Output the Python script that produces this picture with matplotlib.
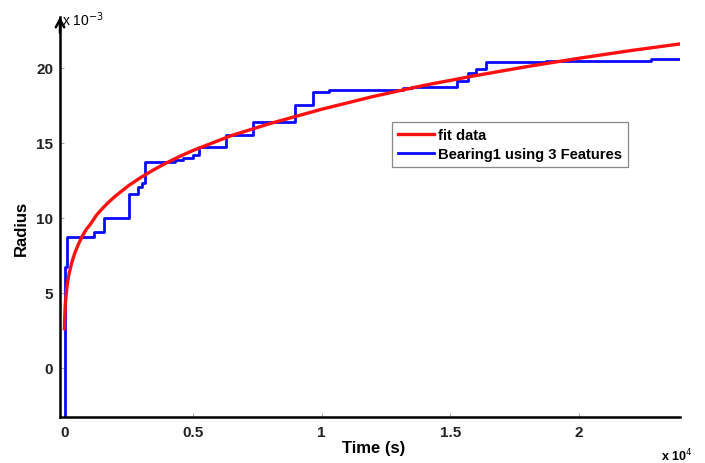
import numpy as np
import matplotlib
matplotlib.use('Agg')
import matplotlib.pyplot as plt

plt.rcParams['font.family'] = ['Liberation Sans', 'DejaVu Sans']

# blue: stepwise radius estimate (time in s, radius in 1e-3)
bear_t = [0, 30, 105, 1150, 1550, 2500, 2850, 3000, 3140, 4300, 4600, 5000, 5250,
          6300, 7330, 8960, 9660, 10300, 13170, 13500, 15250, 15700, 16000,
          16400, 18700, 22800, 23900]
bear_r = [-4.0, 6.7, 8.7, 9.05, 10.0, 11.6, 12.07, 12.3, 13.7, 13.85, 14.0, 14.2, 14.7,
          15.5, 16.4, 17.5, 18.4, 18.55, 18.65, 18.75, 19.15, 19.67, 19.9,
          20.4, 20.45, 20.6, 20.6]
# red: fitted curve
fit_t = [6, 10, 20, 30, 50, 100, 150, 200, 300, 400, 550, 700, 850, 1000, 1250,
         1500, 1750, 2000, 2500, 3000, 3500, 4000, 4500, 5000, 6500,
         8000, 10000, 12000, 14000, 16000, 18000, 20000, 22000, 23900]
fit_r = [2.62, 2.98, 3.55, 3.94, 4.49, 5.36, 5.94, 6.39, 7.08, 7.62, 8.26, 8.79, 9.23,
         9.55, 10.19, 10.67, 11.10, 11.48, 12.16, 12.73, 13.24, 13.70, 14.12,
         14.5, 15.50, 16.30, 17.25, 18.1, 18.85, 19.50, 20.10, 20.65, 21.16, 21.6]

xticks = [0, 0.5, 1, 1.5, 2]
xticklabels = ['0', '0.5', '1', '1.5', '2']
yticks = [0, 5, 10, 15, 20]

W, H = 705, 464
fig = plt.figure(figsize=(W / 100, H / 100), dpi=100)
ax = fig.add_axes([60 / W, 1 - 418 / H, 620 / W, 400 / H])

bt = np.array(bear_t) / 1e4
ft = np.array(fit_t) / 1e4
hb, = ax.step(bt, bear_r, where='post', color='#0a0aff', lw=2.0, zorder=2)
hr, = ax.plot(ft, fit_r, color='#ff1010', lw=2.4, zorder=3)

ax.set_xlim(-0.0167, 2.392)
ax.set_ylim(-3.27, 23.4)
ax.set_xticks(xticks)
ax.set_xticklabels(xticklabels)
ax.set_yticks(yticks)
for s in ('top', 'right'):
    ax.spines[s].set_visible(False)
for s in ('left', 'bottom'):
    ax.spines[s].set_linewidth(1.8)
ax.tick_params(direction='in', length=3, width=0.8, color='#aaaaaa',
               labelsize=11, pad=5)
for lab in ax.get_xticklabels() + ax.get_yticklabels():
    lab.set_fontweight('bold')
    lab.set_color('#222222')
ax.tick_params(axis='x', pad=6)

ax.annotate('', xy=(0, 1.0), xytext=(0, 0.96), xycoords='axes fraction',
            arrowprops=dict(arrowstyle='->,head_length=0.55,head_width=0.3',
                            lw=1.8, color='k', shrinkA=0, shrinkB=0))

ax.set_xlabel('Time (s)', fontsize=12, fontweight='bold')
ax.xaxis.set_label_coords(0.506, -0.058)
ax.set_ylabel('Radius', fontsize=12, fontweight='bold')
ax.yaxis.set_label_coords(-0.05, 0.475)

fig.text(62 / W, 1 - 26 / H, 'x 10$^{-3}$', fontsize=10, ha='left', va='baseline')
fig.text(661 / W, 1 - 461 / H, 'x 10$^{4}$', fontsize=9, fontweight='bold',
         ha='left', va='baseline')

leg = ax.legend([hr, hb], ['fit data', 'Bearing1 using 3 Features'],
                loc='upper left', bbox_to_anchor=(392 / W, 1 - 123 / H),
                bbox_transform=fig.transFigure, borderaxespad=0,
                prop={'weight': 'bold', 'size': 10.6}, fancybox=False,
                handlelength=2.4, handletextpad=0.3, borderpad=0.42,
                labelspacing=0.32, framealpha=1)
leg.get_frame().set_edgecolor('#888888')
leg.get_frame().set_linewidth(0.9)

fig.savefig('out.png', dpi=100)
